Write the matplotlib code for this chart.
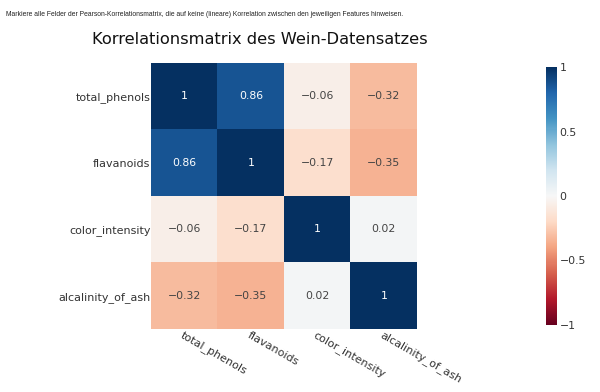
import matplotlib
matplotlib.use("Agg")
import matplotlib.pyplot as plt
import numpy as np

# Pearson correlation of the selected wine features
features = ['total_phenols', 'flavanoids', 'color_intensity', 'alcalinity_of_ash']
corr = np.array([
    [1.00, 0.86, -0.06, -0.32],
    [0.86, 1.00, -0.17, -0.35],
    [-0.06, -0.17, 1.00, 0.02],
    [-0.32, -0.35, 0.02, 1.00],
])
cbar_ticks = [-1, -0.5, 0, 0.5, 1]
cbar_labels = ['\u22121', '\u22120.5', '0', '0.5', '1']

plt.rcParams['font.family'] = ['DejaVu Sans']

fig = plt.figure(figsize=(6, 3.92), dpi=100)
ax = fig.add_axes([0.252, 0.161, 0.443, 0.678])
cax = fig.add_axes([0.910, 0.171, 0.018, 0.658])

im = ax.imshow(corr, cmap='RdBu', vmin=-1, vmax=1, aspect='auto')

def fmt(v):
    if v == 1:
        return '1'
    return f'{v:.2f}'.replace('-', '\u2212')

for i in range(len(features)):
    for j in range(len(features)):
        v = corr[i, j]
        col = 'white' if abs(v) > 0.6 else '#444444'
        ax.text(j, i, fmt(v), ha='center', va='center', fontsize=7.8, color=col)

ax.set_xticks(range(len(features)))
ax.set_yticks(range(len(features)))
ax.set_xticklabels(features, rotation=-30, ha='left', va='top',
                   rotation_mode='anchor', fontsize=8, color='#333333')
ax.set_yticklabels(features, fontsize=8, color='#333333')
ax.tick_params(length=0, pad=0.5)
for s in ax.spines.values():
    s.set_visible(False)

cb = fig.colorbar(im, cax=cax, ticks=cbar_ticks)
cb.ax.set_yticklabels(cbar_labels, fontsize=7.8, color='#333333')
cb.ax.tick_params(length=0, pad=2)
cb.outline.set_visible(False)

fig.text(0.433, 0.9, 'Korrelationsmatrix des Wein-Datensatzes',
         ha='center', va='center', fontsize=11.7, color='#111111')
fig.text(0.01, 0.962, 'Markiere alle Felder der Pearson-Korrelationsmatrix, die auf keine (lineare) '
         'Korrelation zwischen den jeweiligen Features hinweisen.',
         ha='left', va='center', fontsize=4.9, color='#222222', family='Liberation Sans')

fig.savefig('out.png', dpi=100)
